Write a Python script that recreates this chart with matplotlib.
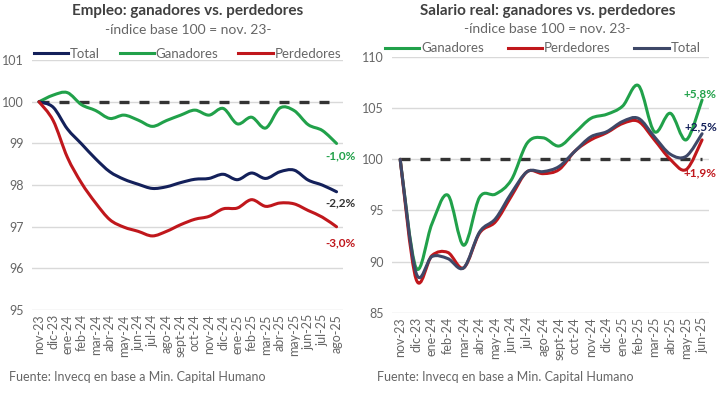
import matplotlib
matplotlib.use("Agg")
import matplotlib.pyplot as plt
from matplotlib.path import Path
from matplotlib.patches import PathPatch
from matplotlib.lines import Line2D
import numpy as np

plt.rcParams['font.family'] = ['Lato', 'DejaVu Sans']

# --- Empleo (left) ---
meses_emp = ["nov-23", "dic-23", "ene-24", "feb-24", "mar-24", "abr-24", "may-24", "jun-24",
             "jul-24", "ago-24", "sept-24", "oct-24", "nov-24", "dic-24", "ene-25", "feb-25",
             "mar-25", "abr-25", "may-25", "jun-25", "jul-25", "ago-25"]
emp_total = [100, 99.87, 99.35, 98.99, 98.63, 98.32, 98.14, 98.02, 97.92, 97.96, 98.06,
             98.14, 98.16, 98.26, 98.13, 98.29, 98.16, 98.32, 98.36, 98.12, 98.0, 97.84]
emp_ganadores = [100, 100.16, 100.22, 99.93, 99.79, 99.6, 99.68, 99.56, 99.41, 99.55, 99.68,
                 99.8, 99.68, 99.84, 99.47, 99.63, 99.37, 99.85, 99.79, 99.45, 99.31, 99.0]
emp_perdedores = [100, 99.55, 98.67, 98.05, 97.57, 97.17, 96.99, 96.89, 96.78, 96.89, 97.05,
                  97.18, 97.25, 97.43, 97.45, 97.65, 97.49, 97.57, 97.55, 97.39, 97.23, 97.0]

# --- Salario real (right) ---
meses_sal = ["nov-23", "dic-23", "ene-24", "feb-24", "mar-24", "abr-24", "may-24", "jun-24",
             "jul-24", "ago-24", "sept-24", "oct-24", "nov-24", "dic-24", "ene-25", "feb-25",
             "mar-25", "abr-25", "may-25", "jun-25"]
sal_ganadores = [100, 89.4, 93.7, 96.5, 91.6, 96.3, 96.6, 98.0, 101.6, 102.1, 101.3, 102.6,
                 104.0, 104.4, 105.2, 107.2, 102.7, 104.5, 101.9, 105.8]
sal_perdedores = [100, 88.3, 90.6, 90.9, 89.4, 92.8, 93.9, 96.4, 98.8, 98.6, 99.0, 100.8,
                  101.9, 102.6, 103.5, 103.7, 101.9, 100.0, 99.0, 101.9]
sal_total = [100, 88.9, 90.5, 90.3, 89.4, 92.9, 94.2, 96.7, 98.8, 98.8, 99.3, 100.8,
             102.2, 102.7, 103.7, 104.0, 102.2, 100.5, 100.3, 102.5]

verde = "#21A14A"
rojo = "#C0171C"
navy = "#13205A"
slate = "#3E4868"
gris_txt = "#666666"
grid_col = "#D9D9D9"


def smooth_line(ax, y, color, lw=2.2, z=3):
    # bezier curve through the points, like excel smoothed lines
    x = np.arange(len(y), dtype=float)
    y = np.asarray(y, dtype=float)
    verts = [(x[0], y[0])]
    codes = [Path.MOVETO]
    n = len(x)
    for i in range(n - 1):
        i0 = max(i - 1, 0)
        i3 = min(i + 2, n - 1)
        c1 = (x[i] + (x[i + 1] - x[i0]) / 6, y[i] + (y[i + 1] - y[i0]) / 6)
        c2 = (x[i + 1] - (x[i3] - x[i]) / 6, y[i + 1] - (y[i3] - y[i]) / 6)
        verts += [c1, c2, (x[i + 1], y[i + 1])]
        codes += [Path.CURVE4] * 3
    ax.add_patch(PathPatch(Path(verts, codes), fill=False, edgecolor=color, lw=lw,
                           capstyle='round', joinstyle='round', zorder=z))


def style_axes(ax, labels, yticks):
    ax.set_yticks(yticks)
    ax.set_xticks(range(len(labels)))
    ax.set_xticklabels(labels, rotation=90, fontsize=9, color=gris_txt)
    ax.tick_params(axis='y', labelsize=9, colors=gris_txt, length=0, pad=6)
    ax.tick_params(axis='x', length=0, pad=3)
    for s in ax.spines.values():
        s.set_visible(False)
    ax.grid(axis='y', color=grid_col, lw=1)
    ax.set_axisbelow(True)


fig = plt.figure(figsize=(7.25, 3.93), dpi=100)

# left chart
ax1 = fig.add_axes([0.044, 0.211, 0.429, 0.636])
ax1.set_xlim(-0.5, 21.45)
ax1.set_ylim(95, 101)
style_axes(ax1, meses_emp, range(95, 102))
ax1.plot([0, 20.5], [100, 100], color="#333333", lw=2.4, dashes=(3, 3), zorder=2)
smooth_line(ax1, emp_ganadores, verde)
smooth_line(ax1, emp_total, navy)
smooth_line(ax1, emp_perdedores, rojo)
ax1.text(21.3, 98.7, "-1,0%", color=verde, fontsize=8.5, fontweight='bold', ha='center', va='center', clip_on=False)
ax1.text(21.3, 97.58, "-2,2%", color="#333333", fontsize=8.5, fontweight='bold', ha='center', va='center', clip_on=False)
ax1.text(21.3, 96.62, "-3,0%", color=rojo, fontsize=8.5, fontweight='bold', ha='center', va='center', clip_on=False)
h1 = [Line2D([], [], color=navy, lw=2.2), Line2D([], [], color=verde, lw=2.2),
      Line2D([], [], color=rojo, lw=2.2)]
ax1.legend(h1, ["Total", "Ganadores", "Perdedores"], loc='lower center',
           bbox_to_anchor=(0.5, 0.98), ncol=3, frameon=False, fontsize=9.5,
           handlelength=2.6, handletextpad=0.15, columnspacing=1.5,
           labelcolor=gris_txt, borderaxespad=0)
fig.text(0.259, 0.972, "Empleo: ganadores vs. perdedores", ha='center', va='center',
         fontsize=11, fontweight='bold', color="#404040")
fig.text(0.259, 0.923, "-índice base 100 = nov. 23-", ha='center', va='center',
         fontsize=10, color=gris_txt)
fig.text(0.013, 0.04, "Fuente: Invecq en base a Min. Capital Humano", fontsize=9,
         color=gris_txt, va='center')

# right chart
ax2 = fig.add_axes([0.541, 0.204, 0.437, 0.651])
ax2.set_xlim(-0.5, 19.44)
ax2.set_ylim(85, 110)
style_axes(ax2, meses_sal, range(85, 111, 5))
ax2.plot([0, 19], [100, 100], color="#333333", lw=2.4, dashes=(3, 3), zorder=2)
smooth_line(ax2, sal_ganadores, verde)
smooth_line(ax2, sal_perdedores, rojo)
smooth_line(ax2, sal_total, slate)
ax2.text(18.9, 106.4, "+5,8%", color=verde, fontsize=8.5, fontweight='bold', ha='center', va='center', clip_on=False)
ax2.text(18.9, 103.2, "+2,5%", color=navy, fontsize=8.5, fontweight='bold', ha='center', va='center', clip_on=False)
ax2.text(18.9, 98.7, "+1,9%", color=rojo, fontsize=8.5, fontweight='bold', ha='center', va='center', clip_on=False)
h2 = [Line2D([], [], color=verde, lw=2.2), Line2D([], [], color=rojo, lw=2.2),
      Line2D([], [], color=slate, lw=2.2)]
ax2.legend(h2, ["Ganadores", "Perdedores", "Total"], loc='lower center',
           bbox_to_anchor=(0.475, 0.99), ncol=3, frameon=False, fontsize=9.5,
           handlelength=2.6, handletextpad=0.15, columnspacing=1.8,
           labelcolor=gris_txt, borderaxespad=0)
fig.text(0.755, 0.972, "Salario real: ganadores vs. perdedores", ha='center', va='center',
         fontsize=11, fontweight='bold', color="#404040")
fig.text(0.755, 0.925, "-índice base 100 = nov. 23-", ha='center', va='center',
         fontsize=10, color=gris_txt)
fig.text(0.52, 0.04, "Fuente: Invecq en base a Min. Capital Humano", fontsize=9,
         color=gris_txt, va='center')

fig.savefig("out.png", dpi=100)
